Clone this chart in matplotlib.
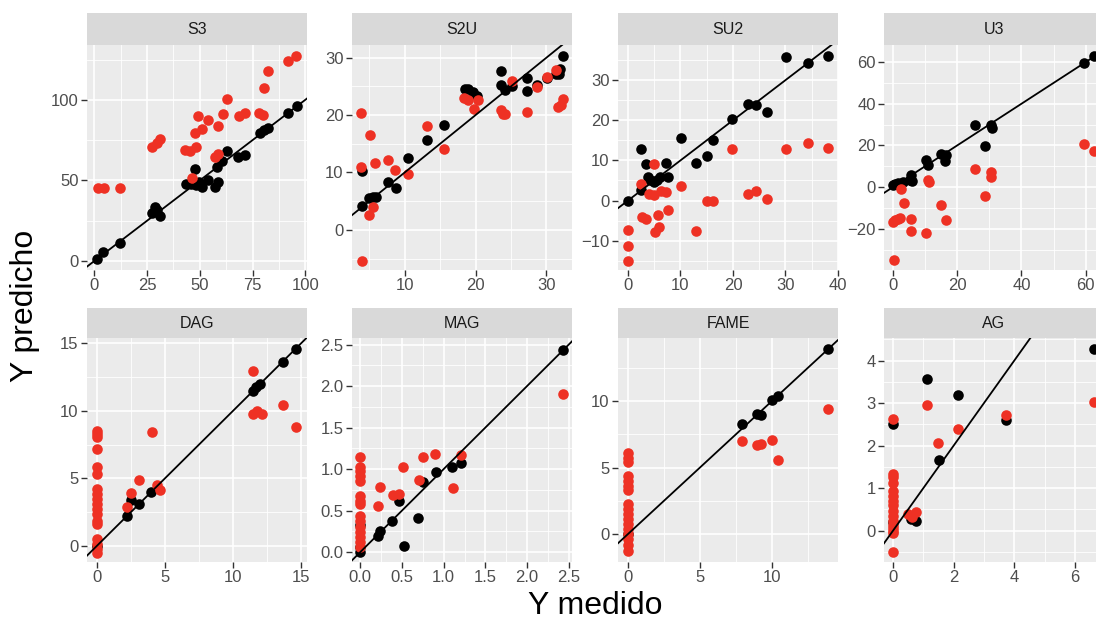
import matplotlib
matplotlib.use("Agg")
import matplotlib.pyplot as plt
from matplotlib.ticker import AutoMinorLocator, FormatStrFormatter

plt.rcParams["font.family"] = ["Liberation Sans", "DejaVu Sans"]

# --- data: measured (x) vs predicted (y), black and red series per panel ---
s3_x_black = [1.3, 4, 12.3, 27.2, 28.8, 29.6, 31.1, 43.2, 46, 47.6, 48.4, 49.7, 51.1, 53.9,
              57, 58.6, 58.3, 60.7, 62.9, 68.1, 71.2, 78.3, 80.2, 82.2, 91.7, 95.9]
s3_y_black = [1, 5.4, 11.4, 29.6, 33.3, 31.7, 28, 47.6, 47.6, 57, 47.2, 49.3, 46.2, 50.3,
              46.2, 49.3, 58.6, 62.1, 68.5, 64.8, 65.8, 79.7, 81.4, 82.4, 91.7, 95.9]
s3_x_red = [1.6, 4.4, 12, 27.5, 29.6, 31.1, 42.9, 45.3, 48.4, 47.6, 51.1, 48.9, 53.9, 58.6,
            57, 58.6, 46.5, 61, 62.9, 68.4, 71.2, 78, 79.9, 80.2, 82.2, 91.7, 95.6]
s3_y_red = [45.5, 45.5, 45.5, 71, 73, 75.6, 69, 68, 71, 79.7, 81.8, 90, 87.6, 83.9,
            64.8, 66.5, 51.3, 91.1, 100.6, 90, 91.7, 91.7, 90.7, 107.2, 117.6, 124.2, 127.3]

s2u_x_black = [4, 4, 4.9, 5.5, 5.9, 7.6, 8.7, 10.5, 13.2, 15.6, 18.5, 18.9, 19.7, 20.2, 23.6,
               23.6, 24.2, 25.2, 27.3, 27.2, 28.6, 30.1, 31.4, 31.9, 32.4, 31.7]
s2u_y_black = [4.2, 10.2, 5.6, 5.8, 5.7, 8.4, 7.3, 12.6, 15.7, 18.3, 24.6, 24.6, 24, 23.4, 27.6,
               25.2, 24.3, 25, 26.5, 24.2, 25.2, 26.5, 27.1, 28.1, 30.2, 27.1]
s2u_x_red = [3.9, 3.9, 5.05, 5.8, 7.6, 8.6, 10.5, 13.2, 15.6, 5.5, 4.9, 4, 18.3, 18.9, 20.4,
             19.8, 23.6, 23.8, 24.2, 25.2, 27.3, 28.6, 30.1, 31.3, 31.6, 32.1, 32.4]
s2u_y_red = [20.3, 10.9, 16.6, 11.6, 12.1, 10.5, 9.65, 18.1, 14, 3.95, 2.6, -5.35, 23, 22.6, 22.7,
             21.1, 20.9, 20.2, 20.2, 25.9, 20.6, 24.8, 26.7, 27.9, 21.4, 21.7, 22.8]

su2_x_black = [0, 2.5, 2.5, 3.5, 3.9, 4.2, 4.9, 5.5, 6.1, 7.3, 7.7, 10.1, 12.9, 15, 16.1,
               19.9, 22.9, 24.3, 26.4, 30.1, 34.3, 38.1]
su2_y_black = [0, 12.75, 2.7, 9, 5.8, 5, 4.6, 5.2, 5.8, 9.3, 5.8, 15.7, 9.4, 11, 15,
               20.4, 24, 23.75, 22.1, 35.8, 34.2, 36]
su2_x_red = [0, 0, 0, 2.5, 2.7, 3.5, 4.9, 4.05, 5, 5.7, 5.1, 6, 6.3, 7.3, 7.7, 10.1, 12.9,
             15, 16.1, 19.9, 22.9, 24.3, 26.4, 30.1, 34.3, 38.1]
su2_y_red = [-7.3, -11.25, -15, 4, -4.2, -4.6, 9, 1.7, 1.4, -3.6, -7.9, -6.5, 2.5, 2.25, -2.3, 3.6, -7.5,
             0, 0, 12.9, 1.7, 2.5, 0.4, 12.9, 14.4, 13.1]

u3_x_black = [0, 0.5, 1.6, 3.1, 5.2, 5.7, 5.9, 10.4, 10.9, 15.1, 16.4, 16.1, 25.5, 28.8,
              30.4, 30.7, 59.5, 62.6]
u3_y_black = [0.8, 1.6, 1.9, 2.4, 3.2, 5.6, 2.7, 12.8, 10.4, 16, 15.6, 12.4, 30, 19.7,
              30, 28.4, 59.7, 62.9]
u3_x_red = [0, 0.5, 1.6, 2.3, 2.6, 3.4, 0.2, 5.7, 5.7, 10.4, 10.9, 11.2, 15.1, 16.4, 25.5,
            28.8, 30.4, 30.4, 59.5, 62.6]
u3_y_red = [-16.9, -16, -15.2, -14.8, -1.1, -7.5, -35, -15.2, -20.9, -22, 3.2, 2.4, -8.8, -16, 8.8,
            -4.5, 7.2, 4.8, 20.9, 17.2]

dag_x_black = [0, 2.2, 2.5, 3.1, 4, 11.5, 11.7, 12, 13.7, 14.6]
dag_y_black = [0, 2.18, 3.4, 3.1, 3.96, 11.5, 11.8, 11.96, 13.6, 14.6]
dag_x_red = [0, 0, 0, 0, 0, 0, 0, 0, 0, 0, 0, 0, 0, 0, 0, 0, 0, 0,
             2.2, 2.5, 3.1, 4.05, 4.45, 4.6, 11.5, 11.5, 11.8, 12.1, 13.7, 14.6]
dag_y_red = [8.54, 8.29, 8.04, 7.18, 5.82, 5.32, 4.2, 3.84, 3.47, 3.1, 2.72, 2.35, 1.86, 1.6,
             0.5, 0.12, -0.25, -0.5,
             2.85, 3.9, 4.9, 8.4, 4.5, 4.1, 12.95, 9.8, 10, 9.8, 10.4, 8.8]

mag_x_black = [0, 0, 0, 0.21, 0.23, 0.38, 0.46, 0.52, 0.69, 0.75, 0.91, 1.1, 1.21, 2.43]
mag_y_black = [0, 0.06, 0.32, 0.19, 0.25, 0.37, 0.62, 0.07, 0.41, 0.85, 0.97, 1.02, 1.07, 2.44]
mag_x_red = [0, 0, 0, 0, 0, 0, 0, 0, 0, 0, 0, 0, 0, 0, 0,
             0.23, 0.21, 0.39, 0.46, 0.51, 0.7, 0.75, 0.9, 1.11, 1.21, 2.43]
mag_y_red = [1.15, 1.02, 0.98, 0.92, 0.86, 0.68, 0.62, 0.58, 0.44, 0.38, 0.3, 0.24, 0.18, 0.12, 0.06,
             0.79, 0.55, 0.69, 0.7, 1.02, 0.87, 1.14, 1.18, 0.77, 1.17, 1.9]

fame_x_black = [0, 7.96, 8.96, 9.24, 10, 10.46, 13.9]
fame_y_black = [0, 8.3, 9.05, 8.95, 10.05, 10.4, 13.9]
fame_x_red = [0, 0, 0, 0, 0, 0, 0, 0, 0, 0, 0, 0, 0, 0, 0, 0, 0,
              7.96, 8.96, 9.24, 10, 10.46, 13.9]
fame_y_red = [6.1, 5.75, 5.4, 4.4, 4.0, 3.6, 2.25, 1.9, 1.5, 1.1, 0.75, 0.4, 0, -0.4, -0.8, -1.25, 3.3,
              7, 6.7, 6.75, 7.1, 5.6, 9.4]

ag_x_black = [0, 0, 0.6, 0.77, 1.12, 1.5, 2.15, 3.74, 6.63]
ag_y_black = [2.5, 0.2, 0.27, 0.23, 3.57, 1.66, 3.19, 2.6, 4.26]
ag_x_red = [0, 0, 0, 0, 0, 0, 0, 0, 0, 0, 0, 0, 0, 0, 0, 0,
            0.5, 0.64, 0.77, 1.12, 1.49, 2.15, 3.74, 6.63]
ag_y_red = [2.62, 1.33, 1.25, 1.12, 0.94, 0.82, 0.7, 0.59, 0.47, 0.35, 0.23, 0.12, 0.06, 0, -0.06, -0.51,
            0.39, 0.31, 0.43, 2.95, 2.05, 2.38, 2.72, 3.03]

panel_names = ["S3", "S2U", "SU2", "U3", "DAG", "MAG", "FAME", "AG"]

panels = [
    (s3_x_black, s3_y_black, s3_x_red, s3_y_red, (-3.5, 100.8), (-5.6, 134),
     [0, 25, 50, 75, 100], [0, 50, 100]),
    (s2u_x_black, s2u_y_black, s2u_x_red, s2u_y_red, (2.56, 33.6), (-7.0, 32.2),
     [10, 20, 30], [0, 10, 20, 30]),
    (su2_x_black, su2_y_black, su2_x_red, su2_y_red, (-1.9, 40.0), (-17.3, 38.75),
     [0, 10, 20, 30, 40], [-10, 0, 10, 20, 30]),
    (u3_x_black, u3_y_black, u3_x_red, u3_y_red, (-2.8, 65.7), (-39.8, 68.2),
     [0, 20, 40, 60], [-20, 0, 20, 40, 60]),
    (dag_x_black, dag_y_black, dag_x_red, dag_y_red, (-0.73, 15.44), (-1.2, 15.4),
     [0, 5, 10, 15], [0, 5, 10, 15]),
    (mag_x_black, mag_y_black, mag_x_red, mag_y_red, (-0.1, 2.54), (-0.12, 2.58),
     [0, 0.5, 1.0, 1.5, 2.0, 2.5], [0, 0.5, 1.0, 1.5, 2.0, 2.5]),
    (fame_x_black, fame_y_black, fame_x_red, fame_y_red, (-0.69, 14.6), (-2.1, 14.75),
     [0, 5, 10], [0, 5, 10]),
    (ag_x_black, ag_y_black, ag_x_red, ag_y_red, (-0.3, 6.96), (-0.74, 4.53),
     [0, 2, 4, 6], [0, 1, 2, 3, 4]),
]

W, H = 1096, 620
fig = plt.figure(figsize=(W / 100, H / 100), dpi=100)

col_left = [87, 352, 618, 884]
panel_w = 220
rows = [(45, 270, 13), (338, 562, 308)]  # panel top, panel bottom, strip top

for i, (name, p) in enumerate(zip(panel_names, panels)):
    xb, yb, xr, yr, xlim, ylim, xt, yt = p
    r, c = divmod(i, 4)
    top, bot, stop = rows[r]
    left = col_left[c]
    ax = fig.add_axes([left / W, (H - bot) / H, panel_w / W, (bot - top) / H])
    sax = fig.add_axes([left / W, (H - top) / H, panel_w / W, (top - stop) / H])

    ax.set_facecolor("#EBEBEB")
    ax.scatter(xb, yb, s=58, color="black", linewidths=0, zorder=3)
    ax.scatter(xr, yr, s=58, color="#EE3124", linewidths=0, zorder=3)
    ax.axline((0, 0), slope=1, color="black", lw=1.3, zorder=4)
    ax.set_xlim(xlim)
    ax.set_ylim(ylim)
    ax.set_xticks(xt)
    ax.set_yticks(yt)
    ax.xaxis.set_minor_locator(AutoMinorLocator(2))
    ax.yaxis.set_minor_locator(AutoMinorLocator(2))
    if name == "MAG":
        ax.xaxis.set_major_formatter(FormatStrFormatter("%.1f"))
        ax.yaxis.set_major_formatter(FormatStrFormatter("%.1f"))
    ax.grid(which="major", color="white", lw=1.2, zorder=0)
    ax.grid(which="minor", color="white", lw=0.6, zorder=0)
    ax.set_axisbelow(True)
    for sp in ax.spines.values():
        sp.set_visible(False)
    ax.tick_params(which="major", length=4, width=1, color="#333333",
                   labelcolor="#4D4D4D", labelsize=12, pad=2)
    ax.tick_params(which="minor", length=0)

    sax.set_facecolor("#D9D9D9")
    sax.set_xticks([])
    sax.set_yticks([])
    for sp in sax.spines.values():
        sp.set_visible(False)
    sax.text(0.5, 0.5, name, transform=sax.transAxes, ha="center", va="center",
             fontsize=11.5, color="#1A1A1A")

fig.text(595 / W, (H - 606) / H, "Y medido", ha="center", va="center", fontsize=23)
fig.text(25 / W, (H - 306) / H, "Y predicho", ha="center", va="center",
         rotation=90, fontsize=23)

fig.savefig("out.png", dpi=100)
